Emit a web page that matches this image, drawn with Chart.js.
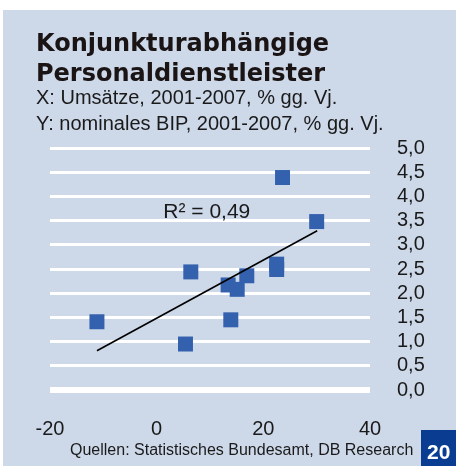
<!DOCTYPE html>
<html>
<head>
<meta charset="utf-8">
<script src="https://cdn.jsdelivr.net/npm/chart.js@4/dist/chart.umd.min.js"></script>
<style>
  body { margin: 0; background: #fff; }
  canvas { display: block; }
</style>
</head>
<body>
<canvas id="scatter" width="456" height="466"></canvas>
<script>
var titleLines = ['Konjunkturabhängige', 'Personaldienstleister'];
var subtitleLines = ['X: Umsätze, 2001-2007, % gg. Vj.', 'Y: nominales BIP, 2001-2007, % gg. Vj.'];
var sourceText = 'Quellen: Statistisches Bundesamt, DB Research';
var pageNumber = '20';
var r2Text = 'R² = 0,49';

// Umsatz (x) vs. BIP (y)
var umsatz = [-11.2, 6.4, 5.4, 23.6, 30.0, 22.5, 22.5, 16.9, 13.4, 15.1, 13.9];
var bip = [1.41, 2.44, 0.95, 4.39, 3.48, 2.60, 2.49, 2.36, 2.17, 2.08, 1.45];

// Trendlinie
var trendX = [-11.2, 30.1];
var trendY = [0.81, 3.29];

var xTickLabels = ['-20', '0', '20', '40'];
var yTickLabels = ['0,0', '0,5', '1,0', '1,5', '2,0', '2,5', '3,0', '3,5', '4,0', '4,5', '5,0'];

function toPoints(xs, ys) {
  var pts = [];
  for (var i = 0; i < xs.length; i++) {
    pts.push({x: xs[i], y: ys[i]});
  }
  return pts;
}

var panel = {
  id: 'panel',
  beforeDraw: function(chart) {
    var ctx = chart.ctx;
    ctx.save();
    ctx.fillStyle = '#ffffff';
    ctx.fillRect(0, 0, chart.width, chart.height);
    ctx.fillStyle = '#cdd8e9';
    ctx.fillRect(3, 10, chart.width - 3, chart.height - 10);
    ctx.restore();
  },
  afterDatasetsDraw: function(chart) {
    var ctx = chart.ctx;
    ctx.save();
    ctx.fillStyle = '#1a1a1a';
    ctx.font = '21px "Liberation Sans", Arial, sans-serif';
    ctx.textAlign = 'center';
    ctx.textBaseline = 'middle';
    ctx.fillText(r2Text, chart.scales.x.getPixelForValue(9.4), chart.scales.y.getPixelForValue(3.68));
    ctx.restore();
  },
  afterDraw: function(chart) {
    var ctx = chart.ctx;
    ctx.save();
    ctx.fillStyle = '#1a1414';
    ctx.textAlign = 'left';
    ctx.textBaseline = 'alphabetic';
    ctx.font = 'bold 24px "DejaVu Sans", sans-serif';
    ctx.fillText(titleLines[0], 36, 51);
    ctx.fillText(titleLines[1], 36, 81);
    ctx.fillStyle = '#1a1a1a';
    ctx.font = '20px "Liberation Sans", Arial, sans-serif';
    ctx.fillText(subtitleLines[0], 36, 104);
    ctx.fillText(subtitleLines[1], 36, 130);
    ctx.font = '16px "Liberation Sans", Arial, sans-serif';
    ctx.fillText(sourceText, 70, 455);
    ctx.fillStyle = '#0a3d91';
    ctx.fillRect(421, 430, 35, 36);
    ctx.fillStyle = '#ffffff';
    ctx.font = 'bold 21px "Liberation Sans", Arial, sans-serif';
    ctx.fillText(pageNumber, 427, 459);
    ctx.restore();
  }
};

var chart = new Chart(document.getElementById('scatter'), {
  type: 'scatter',
  data: {
    datasets: [{
      label: 'Personaldienstleister',
      data: toPoints(umsatz, bip),
      pointStyle: 'rect',
      pointRadius: 10.6,
      pointHoverRadius: 10.6,
      backgroundColor: '#3461ad',
      borderWidth: 0,
      order: 2
    }, {
      type: 'line',
      label: 'Trend',
      data: toPoints(trendX, trendY),
      borderColor: '#000000',
      borderWidth: 1.6,
      pointRadius: 0,
      fill: false,
      order: 1
    }]
  },
  options: {
    responsive: false,
    animation: false,
    events: [],
    layout: {
      padding: {left: 50, top: 148, right: 0, bottom: 0}
    },
    plugins: {
      legend: {display: false},
      tooltip: {enabled: false}
    },
    scales: {
      x: {
        type: 'linear',
        min: -20,
        max: 40,
        grid: {display: false, drawTicks: false},
        border: {display: false},
        afterFit: function(scale) { scale.height = 76; },
        ticks: {
          stepSize: 20,
          padding: 27,
          autoSkip: false,
          maxRotation: 0,
          color: '#1a1a1a',
          font: {family: '"Liberation Sans", Arial, sans-serif', size: 20},
          callback: function(value, index) { return xTickLabels[index]; }
        }
      },
      y: {
        position: 'right',
        min: 0,
        max: 5,
        afterFit: function(scale) { scale.width = 86; },
        grid: {
          color: '#ffffff',
          drawTicks: false,
          lineWidth: function(ctx) { return ctx.tick && ctx.tick.value === 0 ? 6 : 3; }
        },
        border: {display: false},
        ticks: {
          stepSize: 0.5,
          padding: 27,
          autoSkip: false,
          color: '#1a1a1a',
          font: {family: '"Liberation Sans", Arial, sans-serif', size: 20},
          callback: function(value, index) { return yTickLabels[index]; }
        }
      }
    }
  },
  plugins: [panel]
});
</script>
</body>
</html>
